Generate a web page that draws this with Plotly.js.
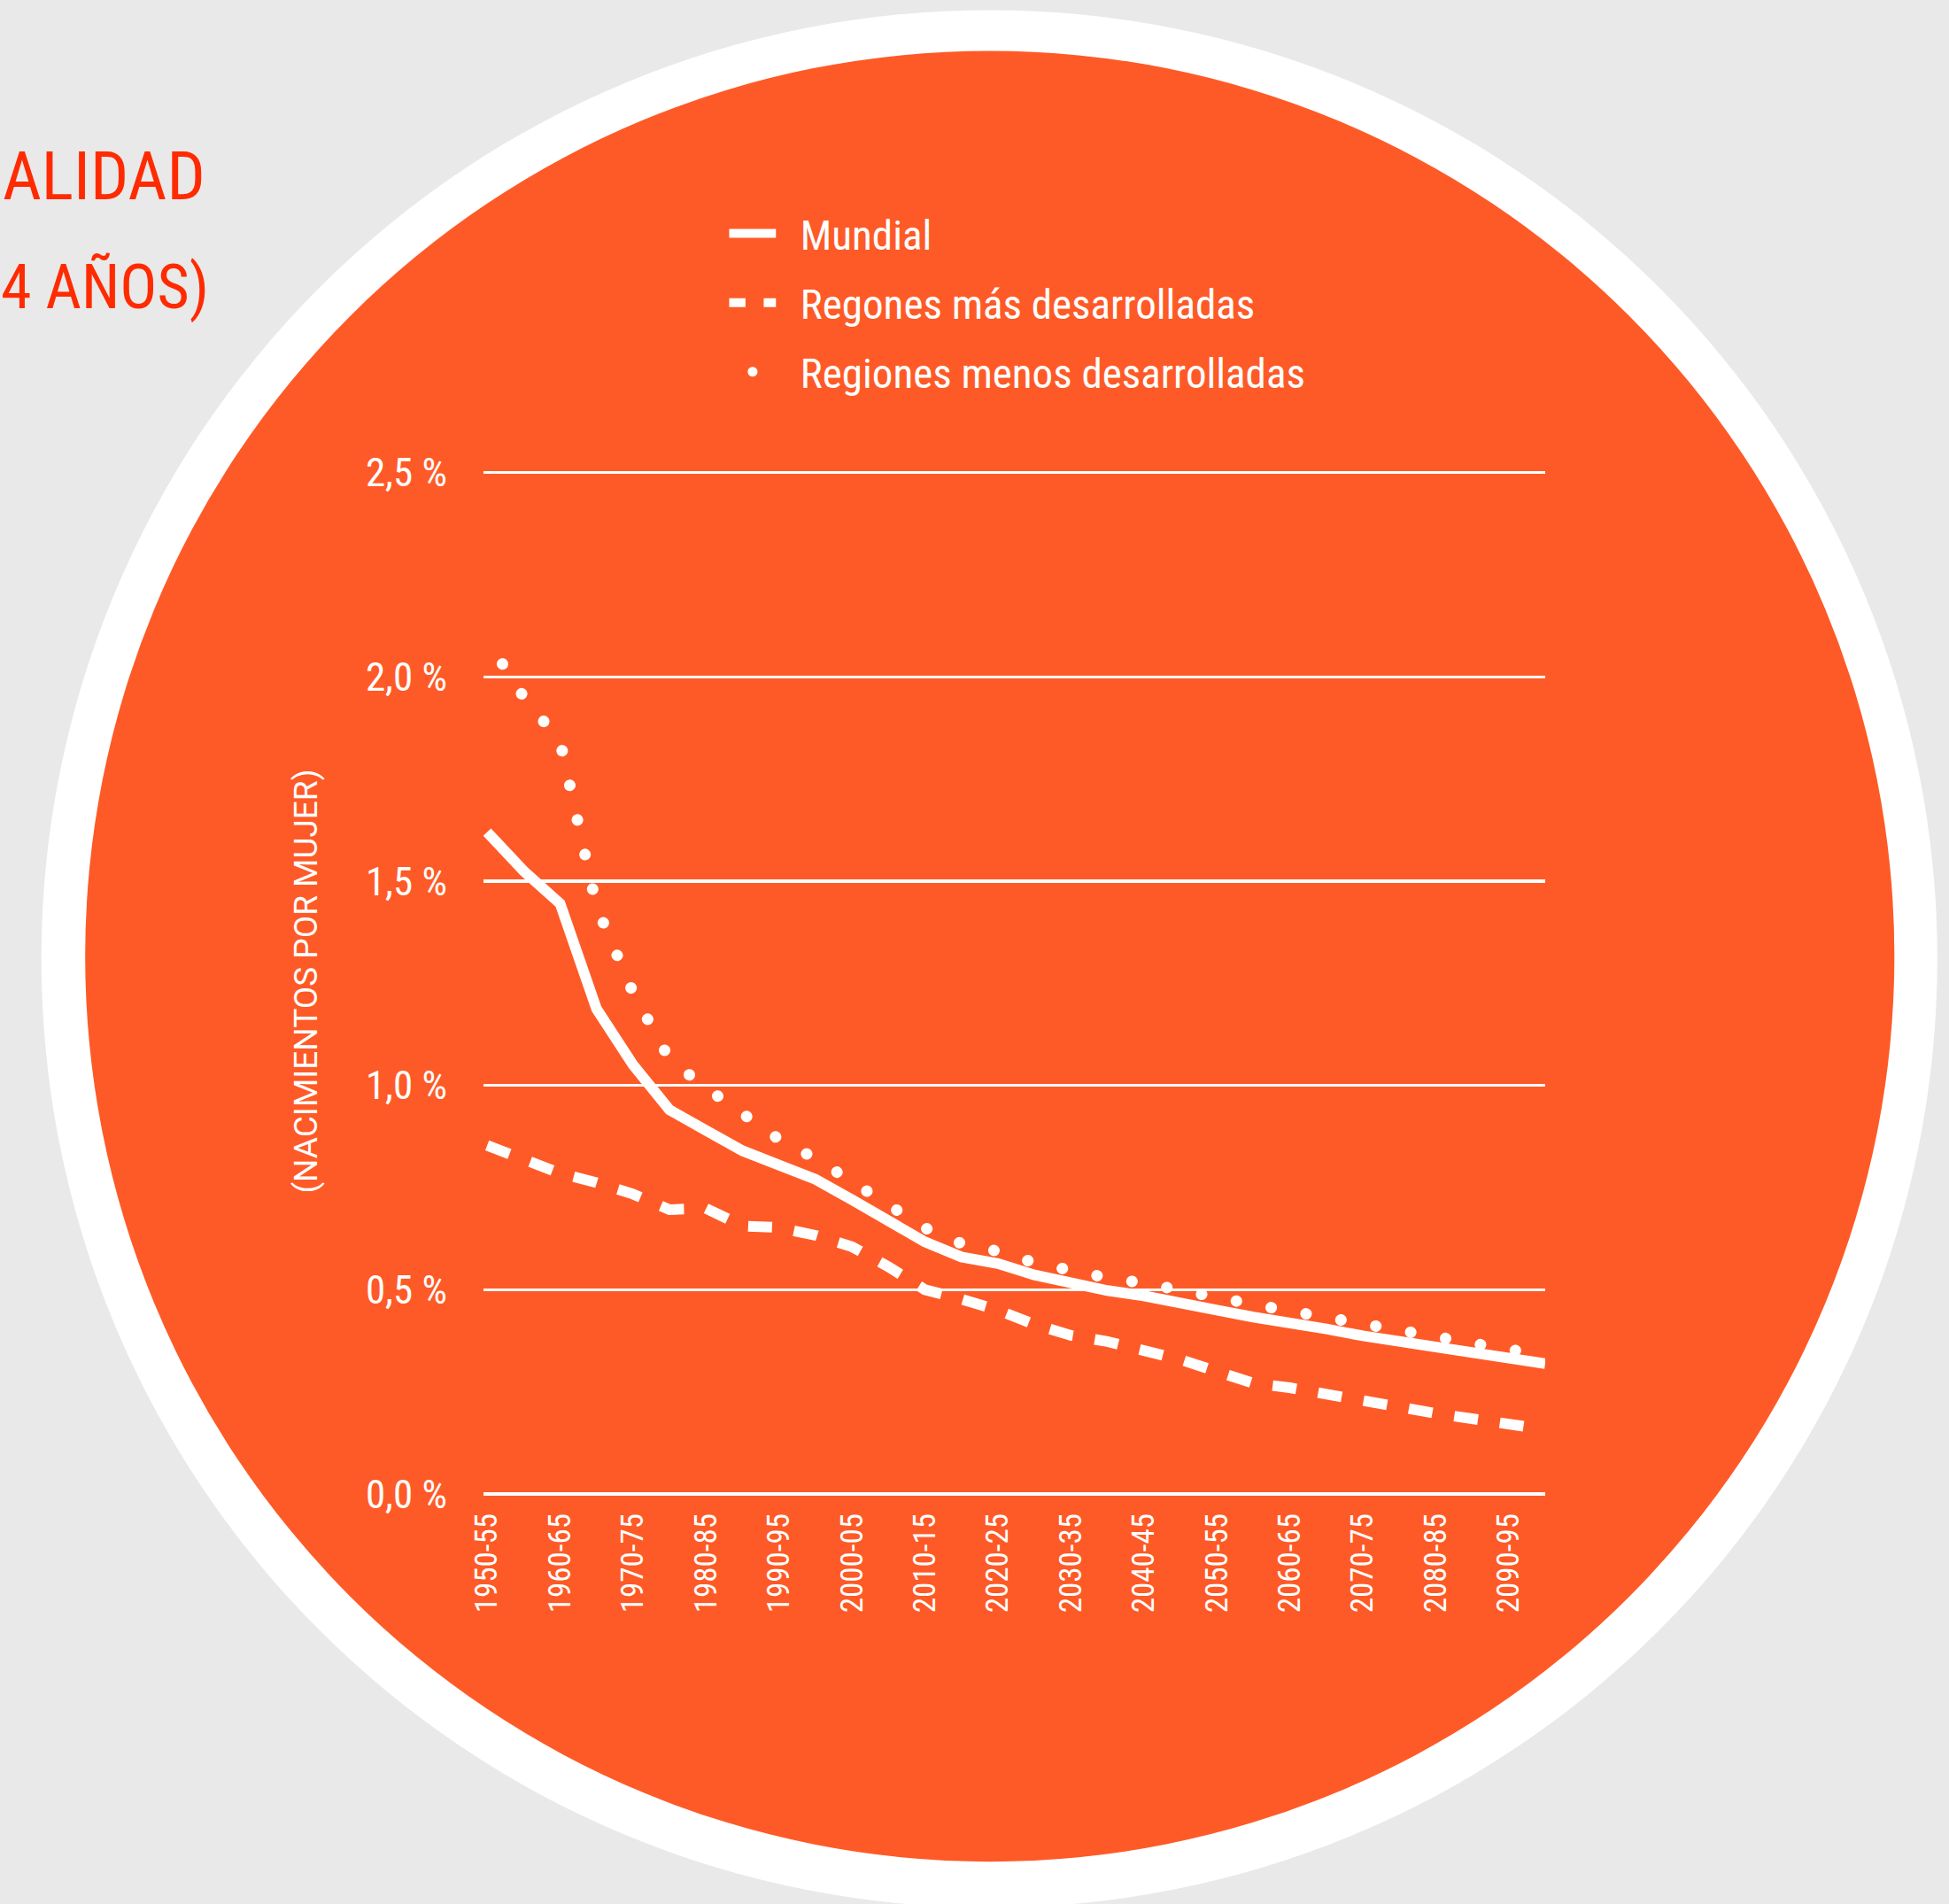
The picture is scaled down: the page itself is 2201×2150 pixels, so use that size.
<!DOCTYPE html>
<html><head><meta charset="utf-8">
<script src="https://cdn.plot.ly/plotly-3.0.1.min.js"></script>
<style>html,body{margin:0;padding:0;background:#e9e9e9;} #chart{width:2201px;height:2150px;}
svg text{font-stretch:condensed;}
svg text.ytitle{font-stretch:normal;}
</style>
</head><body><div id="chart"></div>
<script>
const periods = ["1950-55","1955-60","1960-65","1965-70","1970-75","1975-80","1980-85","1985-90","1990-95","1995-00",
  "2000-05","2005-10","2010-15","2015-20","2020-25","2025-30","2030-35","2035-40","2040-45","2045-50",
  "2050-55","2055-60","2060-65","2065-70","2070-75","2075-80","2080-85","2085-90","2090-95","2095-00"];
const mundial = [1.62,1.525,1.445,1.187,1.05,0.94,0.89,0.84,0.805,0.77,
  0.72,0.67,0.617,0.58,0.564,0.536,0.516,0.498,0.485,0.470,
  0.450,0.433,0.420,0.404,0.387,0.373,0.358,0.344,0.331,0.319];
const masDesarrolladas = [0.853,0.819,0.785,0.762,0.734,0.696,0.699,0.656,0.652,0.633,
  0.605,0.556,0.500,0.477,0.450,0.415,0.388,0.373,0.352,0.329,
  0.300,0.271,0.260,0.246,0.231,0.213,0.197,0.184,0.170,0.158];
const menosDesarrolladas = [2.09,1.951,1.842,1.437,1.227,1.064,0.994,0.929,0.868,0.821,
  0.766,0.707,0.651,0.613,0.594,0.566,0.545,0.529,0.516,0.501,
  0.482,0.464,0.448,0.434,0.418,0.400,0.385,0.369,0.354,0.339];
const seriesNames = ["Mundial","Regones más desarrolladas","Regiones menos desarrolladas"];
const yTickVals = [0,0.5,1,1.5,2,2.5];
const yTickText = ["0,0 %","0,5 %","1,0 %","1,5 %","2,0 %","2,5 %"];
const xTickLabels = periods.filter((p,i)=>i%2===0);
const titleLine1 = "ALIDAD";
const titleLine2 = "4 AÑOS)";
const yTitle = "(NACIMIENTOS POR MUJER)";

const W=2201,H=2150;
const YMAX=2.51;
const M={l:546,r:455.5,t:1687-YMAX*461.2,b:463};
const PW=W-M.l-M.r, PH=H-M.t-M.b;
function px(x){return (x-M.l)/PW;}
function py(y){return (H-M.b-y)/PH;}
function circle(cx,cy,r,color){
  return {type:'circle',xref:'paper',yref:'paper',x0:px(cx-r),x1:px(cx+r),y0:py(cy+r),y1:py(cy-r),
    fillcolor:color,line:{width:0},layer:'below'};
}
const NARROW = '"Roboto Condensed", "Liberation Sans Narrow", "Arial Narrow", "DejaVu Sans Condensed", sans-serif';
const ORANGE = '#fe5a27';
const WHITE = '#ffffff';

const data = [
  {x:periods, y:mundial, name:seriesNames[0], type:'scatter', mode:'lines',
   line:{color:WHITE, width:12}, legendgroup:'a'},
  {x:periods, y:masDesarrolladas, name:seriesNames[1], type:'scatter', mode:'lines',
   line:{color:WHITE, width:12, dash:'27px,25px'}, legendgroup:'b'},
  {x:periods, y:menosDesarrolladas, name:seriesNames[2], type:'scatter', mode:'lines',
   line:{color:WHITE, width:13, dash:'0.1px,39.9px'}, legendgroup:'c'}
];

const layout = {
  width:W, height:H,
  margin:{l:M.l, r:M.r, t:M.t, b:M.b, pad:0},
  paper_bgcolor:'#e9e9e9', plot_bgcolor:'rgba(0,0,0,0)',
  showlegend:true,
  legend:{x:px(864), y:py(227), xanchor:'left', yanchor:'top', bgcolor:'rgba(0,0,0,0)',
    font:{family:NARROW, size:47, color:WHITE}, traceorder:'grouped', tracegroupgap:14},
  xaxis:{type:'category', categoryarray:periods, range:[-0.1,29], tickmode:'array',
    tickvals:xTickLabels, ticktext:xTickLabels, tickangle:-90, showgrid:false, zeroline:false,
    showline:false, ticks:'', ticklabelstandoff:14,
    tickfont:{family:NARROW, size:35, color:WHITE}},
  yaxis:{range:[0,YMAX], tickmode:'array', tickvals:yTickVals, ticktext:yTickText,
    showgrid:true, gridcolor:WHITE, gridwidth:3.5, zeroline:true, zerolinecolor:WHITE, zerolinewidth:3.5,
    showline:false, ticks:'', ticklabelstandoff:40,
    tickfont:{family:NARROW, size:45, color:WHITE},
    title:{text:yTitle, standoff:42, font:{family:'Roboto, "Open Sans", sans-serif', size:37, color:WHITE}}},
  shapes:[circle(1117.5,1083,1071,'#ffffff'), circle(1118,1080,1022,ORANGE)],
  annotations:[
    {text:titleLine1, xref:'paper', yref:'paper', x:px(234), y:py(199), xanchor:'right', yanchor:'middle',
     showarrow:false, font:{family:NARROW, size:76, color:'#ff2b00'}},
    {text:titleLine2, xref:'paper', yref:'paper', x:px(238), y:py(324), xanchor:'right', yanchor:'middle',
     showarrow:false, font:{family:NARROW, size:70, color:'#ff2b00'}}
  ]
};

Plotly.newPlot('chart', data, layout, {staticPlot:true, displayModeBar:false}).then(function(gd){
  const traces = gd.querySelectorAll('.scatterlayer .trace');
  if(traces[2]){
    const p = traces[2].querySelector('path.js-line');
    if(p){ p.style.strokeLinecap='round'; p.style.strokeDashoffset='8px'; }
  }
  gd.querySelectorAll('.legend .scrollbox, .legend').forEach(function(el){ el.removeAttribute('clip-path'); el.style.clipPath='none'; });
  const leg = gd.querySelectorAll('.legend .traces');
  leg.forEach(function(g,i){
    const p = g.querySelector('.legendlines path') || g.querySelector('path.js-line');
    if(!p) return;
    p.setAttribute('d','M-40.4,0h52.8');
    p.style.strokeWidth='10px';
    if(i===1){ p.style.strokeDasharray='18.4px,20.6px'; }
    if(i===2){ p.style.strokeDasharray='0.1px,39.9px'; p.style.strokeLinecap='round'; p.style.strokeDashoffset='13.6px'; p.style.strokeWidth='11px'; }
  });
});
</script>
</body></html>
